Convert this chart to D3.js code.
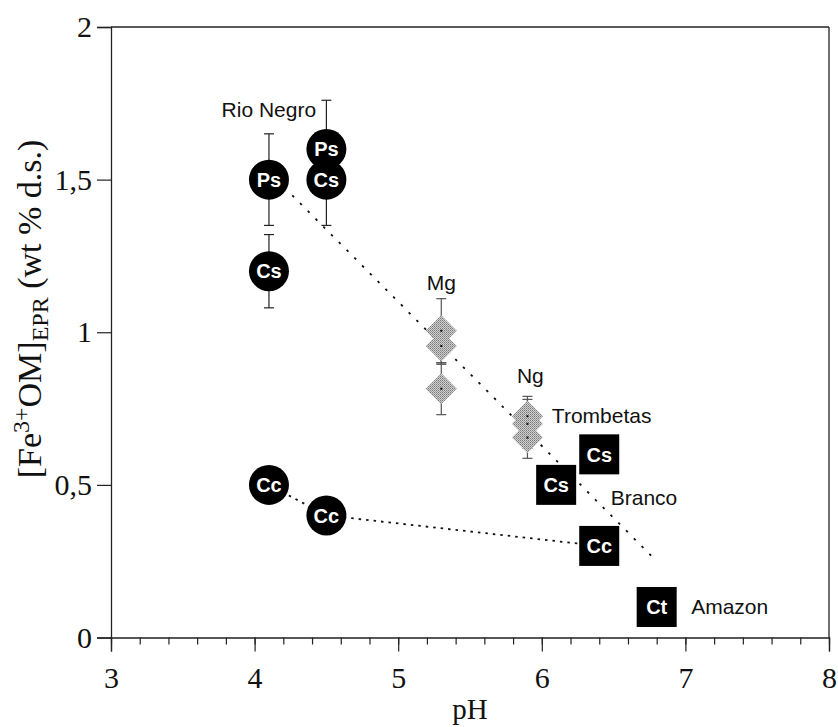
<!DOCTYPE html>
<html>
<head>
<meta charset="utf-8">
<script src="https://cdn.jsdelivr.net/npm/d3@7"></script>
<style>
  body { margin: 0; background: #fff; }
  svg { display: block; }
</style>
</head>
<body>
<div id="chart"></div>
<script>
// circles (left group)
var circlePH  = [4.1, 4.1, 4.5, 4.5, 4.1, 4.5];
var circleVal = [1.5, 1.2, 1.6, 1.5, 0.5, 0.4];
var circleErr = [0.15, 0.12, 0.16, 0.15, 0, 0];
var circleLab = ["Ps", "Cs", "Ps", "Cs", "Cc", "Cc"];

// grey diamonds (Mg, Ng)
var diamondPH  = [5.3, 5.3, 5.3, 5.9, 5.9, 5.9];
var diamondVal = [1.005, 0.955, 0.815, 0.725, 0.70, 0.655];
var diamondErr = [0.105, 0.06, 0.085, 0.065, 0.08, 0.068];

// black squares
var squarePH  = [6.4, 6.1, 6.4, 6.8];
var squareVal = [0.6, 0.5, 0.3, 0.1];
var squareLab = ["Cs", "Cs", "Cc", "Ct"];

// site names and where they sit (data units)
var siteNames = ["Rio Negro", "Mg", "Ng", "Trombetas", "Branco", "Amazon"];
var sitePH    = [3.77, 5.3, 5.92, 6.07, 6.48, 7.04];
var siteVal   = [1.706, 1.14, 0.833, 0.702, 0.434, 0.077];
var siteAnchor = ["start", "middle", "middle", "start", "start", "start"];

// dotted trend lines
var trendUpper = [[4.1, 1.525], [6.8, 0.25]];
var trendLower = [[4.1, 0.5], [4.5, 0.4], [6.4, 0.3]];

var xTicks = [3, 4, 5, 6, 7, 8];
var yTicks = [0, 0.5, 1, 1.5, 2];

var width = 838, height = 727;
var serif = "'Liberation Serif', 'Times New Roman', serif";
var sans = "'Liberation Sans', Arial, Helvetica, sans-serif";

var svg = d3.select("#chart").append("svg")
  .attr("width", width)
  .attr("height", height);

var x = d3.scaleLinear().domain([3, 8]).range([111, 829]);
var y = d3.scaleLinear().domain([0, 2]).range([637.5, 27]);

// halftone fill for the diamonds
var pat = svg.append("defs").append("pattern")
  .attr("id", "dots")
  .attr("width", 2).attr("height", 2)
  .attr("patternUnits", "userSpaceOnUse");
pat.append("rect").attr("width", 2).attr("height", 2).attr("fill", "#cfcfcf");
pat.append("rect").attr("width", 1).attr("height", 1).attr("fill", "#7a7a7a");
pat.append("rect").attr("x", 1).attr("y", 1).attr("width", 1).attr("height", 1).attr("fill", "#9a9a9a");

// frame
svg.append("line")
  .attr("x1", x(3)).attr("x2", x(8)).attr("y1", y(2)).attr("y2", y(2))
  .attr("stroke", "#222").attr("stroke-width", 1.3);
svg.append("line")
  .attr("x1", x(8)).attr("x2", x(8)).attr("y1", y(2)).attr("y2", y(0))
  .attr("stroke", "#222").attr("stroke-width", 1.3);

// x axis: major + minor ticks
var xAxis = svg.append("g")
  .attr("transform", "translate(0," + y(0) + ")")
  .call(d3.axisBottom(x).tickValues(xTicks).tickSize(14).tickPadding(15).tickFormat(d3.format("d")));
svg.append("g")
  .attr("transform", "translate(0," + y(0) + ")")
  .call(d3.axisBottom(x).tickValues(d3.range(3, 8.01, 0.2)).tickSize(7).tickFormat(""))
  .select(".domain").remove();

var yAxis = svg.append("g")
  .attr("transform", "translate(" + x(3) + ",0)")
  .call(d3.axisLeft(y).tickValues(yTicks).tickSize(14).tickPadding(5)
    .tickFormat(function(d) { return String(d).replace(".", ","); }));

svg.selectAll(".domain").attr("stroke", "#222").attr("stroke-width", 1.3);
svg.selectAll(".tick line").attr("stroke", "#222").attr("stroke-width", 1.2);
svg.selectAll(".tick text")
  .attr("font-family", serif)
  .attr("font-size", 30)
  .attr("fill", "#111");

// axis titles
svg.append("text")
  .attr("x", 470).attr("y", 719)
  .attr("text-anchor", "middle")
  .attr("font-family", serif).attr("font-size", 29).attr("fill", "#111")
  .text("pH");

var yt = svg.append("text")
  .attr("transform", "translate(41,309) rotate(-90)")
  .attr("text-anchor", "middle")
  .attr("font-family", serif).attr("font-size", 34).attr("fill", "#111");
yt.append("tspan").text("[Fe");
yt.append("tspan").attr("font-size", 24).attr("dy", -12).text("3+");
yt.append("tspan").attr("dy", 12).text("OM]");
yt.append("tspan").attr("font-size", 24).attr("dy", 7).text("EPR");
yt.append("tspan").attr("dy", -7).text(" (wt % d.s.)");

// trend lines
var line = d3.line().x(function(d) { return x(d[0]); }).y(function(d) { return y(d[1]); });
svg.append("path").datum(trendUpper)
  .attr("d", line).attr("fill", "none")
  .attr("stroke", "#111").attr("stroke-width", 1.8).attr("stroke-dasharray", "2.5,8.5");
svg.append("path").datum(trendLower)
  .attr("d", line).attr("fill", "none")
  .attr("stroke", "#111").attr("stroke-width", 1.8).attr("stroke-dasharray", "2.5,5");

// error bars
function errBars(ph, val, err, color) {
  var idx = d3.range(ph.length).filter(function(i) { return err[i] > 0; });
  var g = svg.append("g").attr("stroke", color).attr("stroke-width", 1.2);
  idx.forEach(function(i) {
    var cx = x(ph[i]);
    var lo = y(val[i] - err[i]), hi = y(val[i] + err[i]);
    g.append("line").attr("x1", cx).attr("x2", cx).attr("y1", lo).attr("y2", hi);
    g.append("line").attr("x1", cx - 5).attr("x2", cx + 5).attr("y1", lo).attr("y2", lo);
    g.append("line").attr("x1", cx - 5).attr("x2", cx + 5).attr("y1", hi).attr("y2", hi);
  });
}
errBars(circlePH, circleVal, circleErr, "#222");
errBars(diamondPH, diamondVal, diamondErr, "#555");

// diamonds
var dIdx = d3.range(diamondPH.length);
svg.append("g").selectAll("path")
  .data(dIdx).enter().append("path")
  .attr("d", function(i) {
    var cx = x(diamondPH[i]), cy = y(diamondVal[i]), r = 15.5;
    return "M" + cx + "," + (cy - r) + "L" + (cx + r) + "," + cy +
           "L" + cx + "," + (cy + r) + "L" + (cx - r) + "," + cy + "Z";
  })
  .attr("fill", "url(#dots)");
svg.append("g").selectAll("rect")
  .data(dIdx).enter().append("rect")
  .attr("x", function(i) { return x(diamondPH[i]) - 1; })
  .attr("y", function(i) { return y(diamondVal[i]) - 1; })
  .attr("width", 2).attr("height", 2).attr("fill", "#111");

// circles
var cg = svg.append("g").selectAll("g")
  .data(d3.range(circlePH.length)).enter().append("g")
  .attr("transform", function(i) { return "translate(" + x(circlePH[i]) + "," + y(circleVal[i]) + ")"; });
cg.append("circle").attr("r", 20).attr("fill", "#000");
cg.append("text")
  .attr("text-anchor", "middle").attr("dy", "0.36em")
  .attr("font-family", sans).attr("font-weight", "bold").attr("font-size", 20)
  .attr("fill", "#fff")
  .text(function(i) { return circleLab[i]; });

// squares
var sg = svg.append("g").selectAll("g")
  .data(d3.range(squarePH.length)).enter().append("g")
  .attr("transform", function(i) { return "translate(" + x(squarePH[i]) + "," + y(squareVal[i]) + ")"; });
sg.append("rect").attr("x", -20).attr("y", -20).attr("width", 40).attr("height", 40).attr("fill", "#000");
sg.append("text")
  .attr("text-anchor", "middle").attr("dy", "0.36em")
  .attr("font-family", sans).attr("font-weight", "bold").attr("font-size", 20)
  .attr("fill", "#fff")
  .text(function(i) { return squareLab[i]; });

// site labels
svg.append("g").selectAll("text")
  .data(d3.range(siteNames.length)).enter().append("text")
  .attr("x", function(i) { return x(sitePH[i]); })
  .attr("y", function(i) { return y(siteVal[i]); })
  .attr("text-anchor", function(i) { return siteAnchor[i]; })
  .attr("font-family", sans).attr("font-size", 21).attr("fill", "#111")
  .text(function(i) { return siteNames[i]; });
</script>
</body>
</html>
